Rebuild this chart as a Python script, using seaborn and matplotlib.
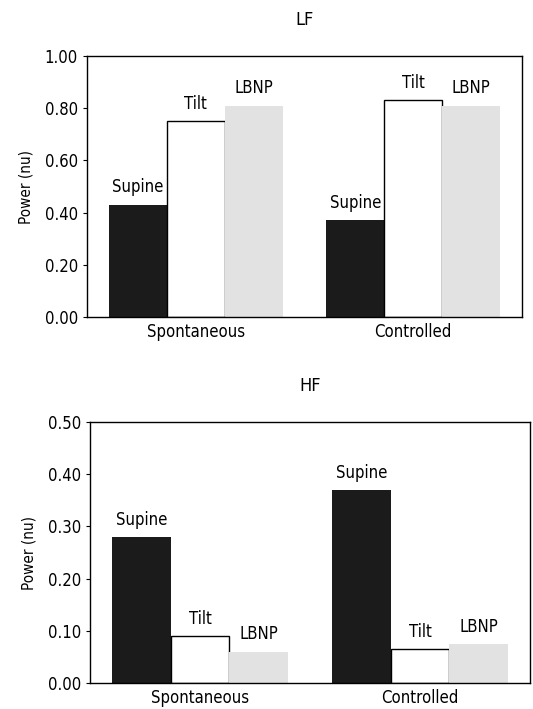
import pandas as pd
import matplotlib
matplotlib.use('Agg')
import matplotlib.pyplot as plt
import seaborn as sns
from matplotlib.ticker import FormatStrFormatter

# data
modes = ['Spontaneous', 'Controlled']
positions = ['Supine', 'Tilt', 'LBNP']
lf_values = {'Supine': [0.43, 0.37], 'Tilt': [0.75, 0.83], 'LBNP': [0.81, 0.81]}
hf_values = {'Supine': [0.28, 0.37], 'Tilt': [0.09, 0.065], 'LBNP': [0.06, 0.075]}

colors = {'Supine': '#1b1b1b', 'Tilt': 'white', 'LBNP': '#e2e2e2'}

sns.set_style('ticks')
plt.rcParams['font.family'] = ['DejaVu Sans']
plt.rcParams['font.stretch'] = 'condensed'
plt.rcParams['text.color'] = 'black'
plt.rcParams['axes.labelcolor'] = 'black'
plt.rcParams['xtick.color'] = 'black'
plt.rcParams['ytick.color'] = 'black'


def make_df(values):
    rows = []
    for p in positions:
        for m, v in zip(modes, values[p]):
            rows.append({'mode': m, 'position': p, 'power': v})
    return pd.DataFrame(rows)


fig = plt.figure(figsize=(5.33, 7.09), dpi=100)
ax1 = fig.add_axes([87/533, 1 - 317/709, 435/533, 261/709])
ax2 = fig.add_axes([90/533, 1 - 683/709, 440/533, 261/709])

for ax, values, title, ymax, step in [(ax1, lf_values, 'LF', 1.0, 0.2),
                                      (ax2, hf_values, 'HF', 0.5, 0.1)]:
    df = make_df(values)
    sns.barplot(data=df, x='mode', y='power', hue='position', order=modes,
                hue_order=positions, palette=colors, ax=ax, legend=False,
                saturation=1, linewidth=0, width=0.8)
    for p, cont in zip(positions, ax.containers):
        for bar in cont:
            if p == 'Tilt':
                bar.set_edgecolor('black')
                bar.set_linewidth(1)
        ax.bar_label(cont, labels=[p] * len(cont), padding=6, fontsize=12)
    ax.set_ylim(0, ymax)
    ax.set_yticks([i * step for i in range(6)])
    ax.yaxis.set_major_formatter(FormatStrFormatter('%.2f'))
    ax.set_xlim(-0.5, 1.5)
    ax.tick_params(axis='x', length=0, labelsize=12, pad=4)
    ax.tick_params(axis='y', labelsize=12, length=3, direction='out')
    ax.set_xlabel('')
    ax.set_ylabel('Power (nu)', fontsize=11, labelpad=8)
    for s in ax.spines.values():
        s.set_linewidth(1)
        s.set_color('black')
    ax.set_title(title, fontsize=13, pad=22)

fig.savefig('out.png', dpi=100)
